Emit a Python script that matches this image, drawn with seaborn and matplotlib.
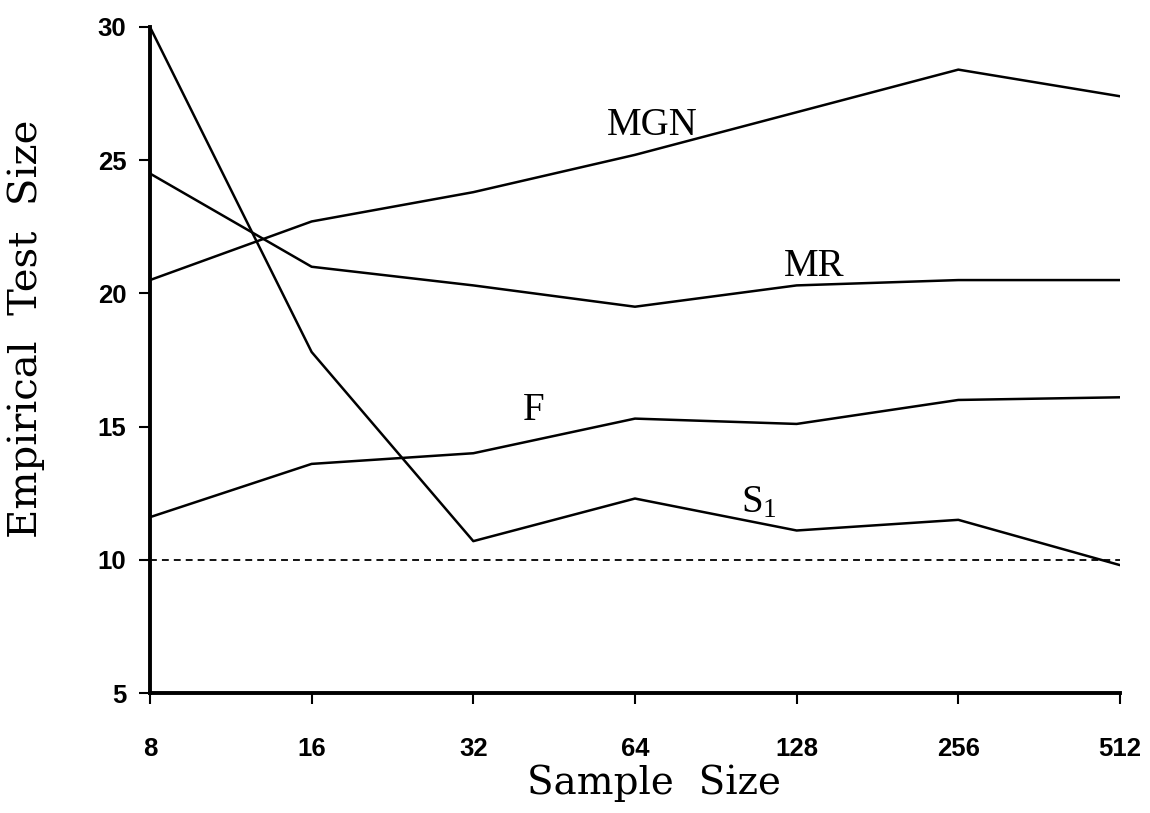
#!/usr/bin/env python3
"""
Empirical test size against sample size for four tests
"""

import pandas as pd
import seaborn as sns
import matplotlib.pyplot as plt

# Data
sample_sizes = [8, 16, 32, 64, 128, 256, 512]
mgn_values = [20.5, 22.7, 23.8, 25.2, 26.8, 28.4, 27.4]
mr_values = [24.5, 21.0, 20.3, 19.5, 20.3, 20.5, 20.5]
f_values = [11.6, 13.6, 14.0, 15.3, 15.1, 16.0, 16.1]
s1_values = [30.0, 17.8, 10.7, 12.3, 11.1, 11.5, 9.8]
nominal_size = 10
y_ticks = [5, 10, 15, 20, 25, 30]

# Label text and the x/y spot where each label sits
series_labels = {
    'MGN': (69, 25.95),
    'MR': (138, 20.65),
    'F': (41.5, 15.25),
    r'$\mathregular{S_1}$': (109, 11.8),
}


def main():
    df = pd.DataFrame({
        'n': sample_sizes * 4,
        'size': mgn_values + mr_values + f_values + s1_values,
        'test': ['MGN'] * 7 + ['MR'] * 7 + ['F'] * 7 + ['S1'] * 7,
    })

    sns.set_theme(style='ticks')
    plt.rcParams['font.family'] = ['Liberation Serif', 'DejaVu Serif']

    fig = plt.figure(figsize=(11.5, 8.13), dpi=100)
    ax = fig.add_axes([0.1304, 0.1476, 0.8435, 0.8192])

    sns.lineplot(data=df, x='n', y='size', units='test', estimator=None,
                 color='black', linewidth=1.8, ax=ax, legend=False)
    ax.axhline(nominal_size, color='black', linestyle=(0, (3.8, 2.8)), linewidth=1.3)

    ax.set_xscale('log', base=2)
    ax.set_xlim(sample_sizes[0], sample_sizes[-1])
    ax.set_ylim(y_ticks[0], y_ticks[-1])
    ax.set_xticks(sample_sizes)
    ax.set_xticklabels([str(s) for s in sample_sizes])
    ax.minorticks_off()
    ax.set_yticks(y_ticks)

    for lab in ax.get_xticklabels() + ax.get_yticklabels():
        lab.set_fontfamily('Liberation Sans')
        lab.set_fontweight('bold')
        lab.set_fontsize(18.5)
        lab.set_color('black')

    ax.tick_params(axis='both', direction='out', length=8, width=1.5, color='black')
    ax.tick_params(axis='x', pad=24)
    ax.tick_params(axis='y', pad=9)

    sns.despine(ax=ax)
    for side in ['left', 'bottom']:
        ax.spines[side].set_linewidth(2.8)
        ax.spines[side].set_color('black')

    ax.set_xlabel('Sample  Size', fontsize=28, family='DejaVu Serif', color='black')
    ax.set_ylabel('Empirical  Test  Size', fontsize=29, family='DejaVu Serif', color='black')
    ax.xaxis.set_label_coords(0.52, -0.108)
    ax.yaxis.set_label_coords(-0.108, 0.547)

    for text, (x, y) in series_labels.items():
        ax.text(x, y, text, fontsize=28, ha='center', va='baseline', color='black')

    fig.savefig('out.png', dpi=100)


if __name__ == "__main__":
    main()
